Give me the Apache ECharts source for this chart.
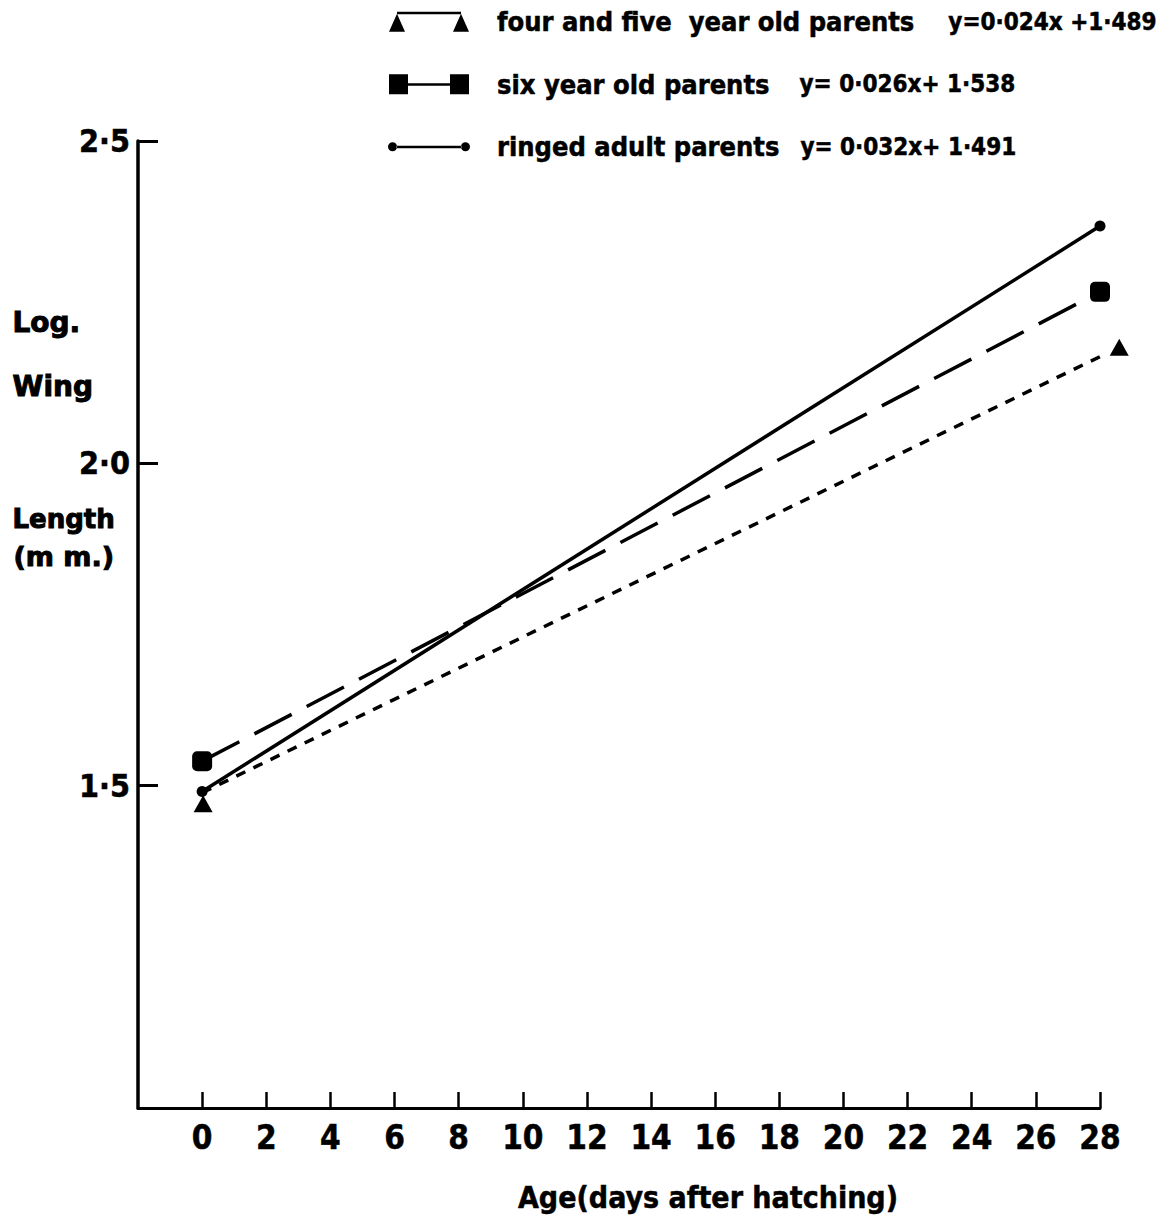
<!DOCTYPE html>
<html>
<head>
<meta charset="utf-8">
<script src="https://cdn.jsdelivr.net/npm/echarts@6/dist/echarts.min.js"></script>
<style>
  html, body { margin: 0; padding: 0; background: #fff; }
  #chart { width: 1167px; height: 1226px; }
</style>
</head>
<body>
<div id="chart"></div>
<script>
// Wing growth of chicks (log wing length) against age, by parent group
const seriesNames = ['four and five  year old parents', 'six year old parents', 'ringed adult parents'];
const equations = ['y=0·024x +1·489', 'y= 0·026x+ 1·538', 'y= 0·032x+ 1·491'];

// [age in days, log wing length] at the two ends of each fitted line
const fourFiveYearOld = [[0, 1.489], [28.6, 2.18]];
const sixYearOld = [[0, 1.538], [28, 2.266]];
const ringedAdult = [[0, 1.491], [28, 2.368]];

const xTicks = { min: -2, max: 28, step: 2 };
const yTicks = { min: 1.0, max: 2.5, step: 0.5 };

const NARROW = "'Liberation Sans Narrow', 'DejaVu Sans Condensed', 'Liberation Sans', sans-serif";
const HEAVY = "'DejaVu Sans', sans-serif";
const INK = '#000';

const chart = echarts.init(document.getElementById('chart'), null, { renderer: 'svg' });

// legend keys: marker, line, marker
const iconTri = 'path://M0,20L8,2L16,20Z M8,0L72,0L72,2.5L8,2.5Z M64,20L72,2L80,20Z';
const iconSq = 'path://M0,0L19,0L19,20L0,20Z M19,9L61,9L61,11.5L19,11.5Z M61,0L80,0L80,20L61,20Z';
const iconDot = 'path://M4,10m-4.5,0a4.5,4.5 0 1,0 9,0a4.5,4.5 0 1,0 -9,0Z M8,9L72,9L72,11.5L8,11.5Z M76,10m-4.5,0a4.5,4.5 0 1,0 9,0a4.5,4.5 0 1,0 -9,0Z';

const bold = { fontFamily: NARROW, fontWeight: 'bold', color: INK, textBorderColor: INK, textBorderWidth: 0.5 };

const option = {
  animation: false,
  backgroundColor: '#fff',
  grid: { left: 138, right: 67, top: 141, bottom: 118, containLabel: false, outerBoundsMode: 'none' },
  legend: {
    orient: 'vertical',
    left: 383,
    top: 3,
    itemWidth: 82,
    itemHeight: 20,
    itemGap: 35,
    selectedMode: false,
    data: [
      { name: seriesNames[0], icon: iconTri },
      { name: seriesNames[1], icon: iconSq },
      { name: seriesNames[2], icon: iconDot }
    ],
    formatter: function (name) {
      const i = seriesNames.indexOf(name);
      return '{n|' + name + '}{e' + i + '|' + equations[i] + '}';
    },
    textStyle: {
      color: INK,
      padding: [0, 0, 0, 22],
      rich: {
        n: Object.assign({ fontSize: 27, lineHeight: 34 }, bold),
        e0: Object.assign({ fontSize: 24, padding: [0, 0, 0, 34] }, bold),
        e1: Object.assign({ fontSize: 24, padding: [0, 0, 0, 30] }, bold),
        e2: Object.assign({ fontSize: 24, padding: [0, 0, 0, 21] }, bold)
      }
    }
  },
  xAxis: {
    type: 'value',
    min: xTicks.min,
    max: xTicks.max,
    interval: xTicks.step,
    splitLine: { show: false },
    axisLine: { show: true, onZero: false, lineStyle: { color: INK, width: 3 } },
    axisTick: { show: true, inside: true, length: 16, lineStyle: { color: INK, width: 2.5 } },
    axisLabel: Object.assign({
      showMinLabel: false,
      margin: 13,
      fontSize: 33,
      formatter: function (v) { return v < 0 ? '' : String(v); }
    }, bold),
    name: 'Age(days after hatching)',
    nameLocation: 'middle',
    nameGap: 74,
    nameTextStyle: Object.assign({ fontSize: 30, padding: [0, 0, 0, 178] }, bold)
  },
  yAxis: {
    type: 'value',
    min: yTicks.min,
    max: yTicks.max,
    interval: yTicks.step,
    splitLine: { show: false },
    axisLine: { show: true, onZero: false, lineStyle: { color: INK, width: 3.5 } },
    axisTick: { show: true, inside: true, length: 20, lineStyle: { color: INK, width: 3 } },
    axisLabel: Object.assign({
      showMinLabel: false,
      margin: 8,
      fontSize: 32,
      formatter: function (v) { return v.toFixed(1).replace('.', '·'); }
    }, bold)
  },
  graphic: [
    { type: 'text', left: 12, top: 308, style: { text: 'Log.', fill: INK, stroke: INK, lineWidth: 1, font: 'bold 28px ' + HEAVY } },
    { type: 'text', left: 12, top: 372, style: { text: 'Wing', fill: INK, stroke: INK, lineWidth: 1, font: 'bold 28px ' + HEAVY } },
    { type: 'text', left: 12, top: 505, style: { text: 'Length', fill: INK, stroke: INK, lineWidth: 1, font: 'bold 26px ' + HEAVY } },
    { type: 'text', left: 13, top: 542, style: { text: '(m m.)', fill: INK, stroke: INK, lineWidth: 1, font: 'bold 27px ' + HEAVY } }
  ],
  series: [
    {
      name: seriesNames[0],
      type: 'line',
      clip: false,
      data: [
        { value: fourFiveYearOld[0], symbolOffset: [1, 11] },
        { value: fourFiveYearOld[1] }
      ],
      symbol: 'triangle',
      symbolSize: [19, 17],
      itemStyle: { color: INK },
      lineStyle: { color: INK, width: 3.5, type: [10, 9] }
    },
    {
      name: seriesNames[1],
      type: 'line',
      clip: false,
      data: sixYearOld,
      symbol: 'roundRect',
      symbolSize: 20,
      itemStyle: { color: INK },
      lineStyle: { color: INK, width: 3.5, type: [42, 17] }
    },
    {
      name: seriesNames[2],
      type: 'line',
      clip: false,
      data: ringedAdult,
      symbol: 'circle',
      symbolSize: 11,
      itemStyle: { color: INK },
      lineStyle: { color: INK, width: 3.5 }
    }
  ]
};

chart.setOption(option);
</script>
</body>
</html>
